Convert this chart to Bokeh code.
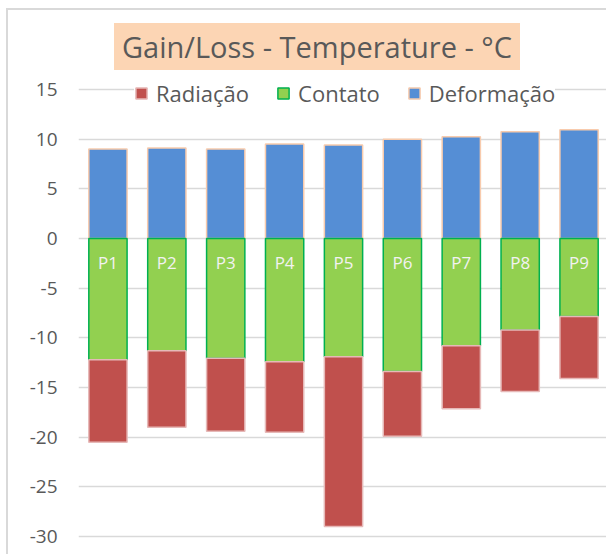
from bokeh.plotting import figure
from bokeh.models import FactorRange, Range1d, FixedTicker, Legend, LegendItem, Label, ColumnDataSource
from bokeh.embed import file_html
from bokeh.resources import INLINE
from bokeh.core.properties import value

categories = ["P1", "P2", "P3", "P4", "P5", "P6", "P7", "P8", "P9"]
deformacao = [9.0, 9.1, 9.0, 9.5, 9.4, 10.0, 10.25, 10.75, 10.95]
contato = [-12.2, -11.3, -12.05, -12.4, -11.9, -13.4, -10.8, -9.2, -7.85]
radiacao = [-8.3, -7.7, -7.35, -7.1, -17.1, -6.5, -6.35, -6.2, -6.25]
y_ticks = [-30, -25, -20, -15, -10, -5, 0, 5, 10, 15]
title_text = "Gain/Loss - Temperature - °C"
series_names = ["Radiação", "Contato", "Deformação"]

FONT = "Open Sans"
TXT = "#595959"

src = ColumnDataSource(dict(cat=categories, deformacao=deformacao,
                            contato=contato, radiacao=radiacao,
                            zero=[0] * len(categories)))

p = figure(x_range=FactorRange(*categories), y_range=Range1d(-32.01, 22.95),
           width=600, height=546, output_backend="svg", toolbar_location=None,
           min_border_left=70, min_border_right=0, min_border_top=0, min_border_bottom=0,
           background_fill_color="white", border_fill_color="white",
           styles={"margin-left": "6px", "margin-top": "8px",
                   "border-left": "2px solid #D9D9D9", "border-top": "2px solid #D9D9D9"})
p.outline_line_color = None
p.xaxis.visible = False
p.xgrid.visible = False
p.ygrid.ticker = FixedTicker(ticks=y_ticks)
p.ygrid.grid_line_color = "#D9D9D9"
p.ygrid.grid_line_width = 1.5

p.yaxis.ticker = FixedTicker(ticks=y_ticks)
p.yaxis.major_label_overrides = {t: str(t) for t in y_ticks}
p.yaxis.axis_line_color = None
p.yaxis.major_tick_line_color = None
p.yaxis.minor_tick_line_color = None
p.yaxis.major_tick_out = 0
p.yaxis.major_tick_in = 0
p.yaxis.major_label_standoff = 21
p.yaxis.major_label_text_font = FONT
p.yaxis.major_label_text_font_size = "19px"
p.yaxis.major_label_text_color = TXT

W = 0.65
r_def = p.vbar(x="cat", top="deformacao", bottom="zero", width=W, source=src,
               fill_color="#558ED5", line_color="#F8CBAD", line_width=1.5)
stack = p.vbar_stack(["contato", "radiacao"], x="cat", width=W, source=src,
                     fill_color=["#92D050", "#C0504D"],
                     line_color=["#00B050", "#E6B9B8"], line_width=1.5)
r_con, r_rad = stack

p.text(x="cat", y="zero", text="cat", source=src, text_align="center",
       text_baseline="middle", y_offset=24, text_color="#F2F2F2",
       text_font=value(FONT), text_font_size="17px")

legend = Legend(items=[LegendItem(label=series_names[0], renderers=[r_rad]),
                       LegendItem(label=series_names[1], renderers=[r_con]),
                       LegendItem(label=series_names[2], renderers=[r_def])],
                orientation="horizontal", location=(56, 448),
                glyph_width=14, glyph_height=14, label_standoff=8, spacing=27,
                padding=10, label_text_font=FONT, label_text_font_size="22px",
                label_text_color=TXT, background_fill_color="white",
                background_fill_alpha=1.0, border_line_color=None)
p.add_layout(legend)

title = Label(x=238.5, y=510, x_units="screen", y_units="screen", text=title_text,
              text_align="center", text_baseline="middle", text_font=FONT,
              text_font_size="29px", text_color=TXT,
              background_fill_color="#FCD5B4", padding=(8, 4))
p.add_layout(title)

open("out.html", "w").write(file_html(p, INLINE))
